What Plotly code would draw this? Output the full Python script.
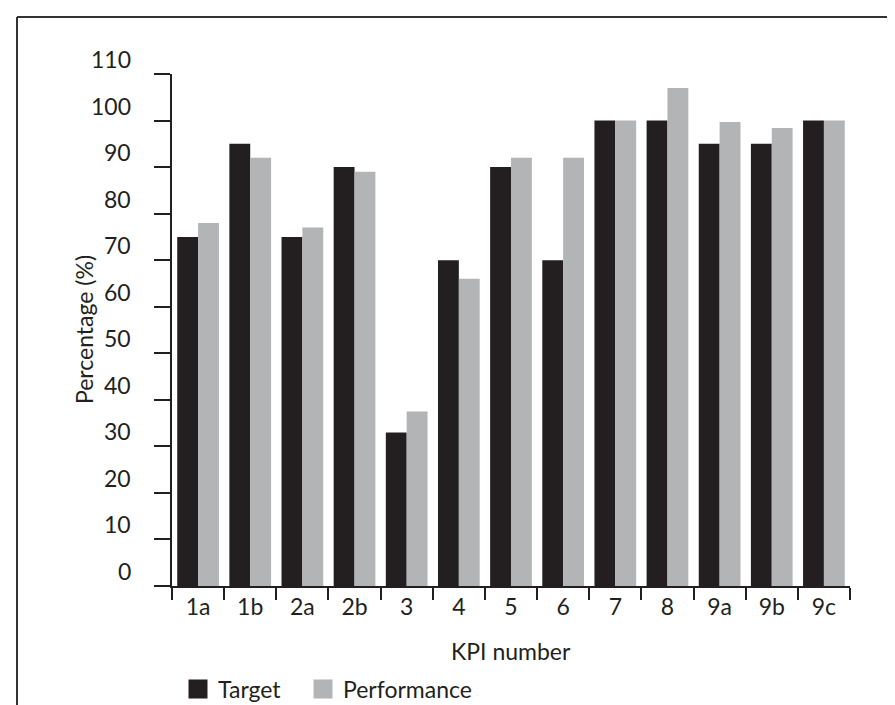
import plotly.graph_objects as go

categories = ["1a", "1b", "2a", "2b", "3", "4", "5", "6", "7", "8", "9a", "9b", "9c"]
target = [75, 95, 75, 90, 33, 70, 90, 70, 100, 100, 95, 95, 100]
performance = [78, 92, 77, 89, 37.5, 66, 92, 92, 100, 107, 99.7, 98.4, 100]
y_ticks = [0, 10, 20, 30, 40, 50, 60, 70, 80, 90, 100, 110]

BLACK = "#231f20"
GREY = "#b3b4b6"
FONT = "Lato"
FS = 23

W, H = 895, 705
ML, MR, MT, MB = 164, 53, 66, 127
pw, ph = W - ML - MR, H - MT - MB

def px_x(p):
    return (p - ML) / pw

def px_y(p):
    return (H - MB - p) / ph

fig = go.Figure()
fig.add_trace(go.Bar(x=categories, y=target, name="Target", marker=dict(color=BLACK, line=dict(width=0)), showlegend=False))
fig.add_trace(go.Bar(x=categories, y=performance, name="Performance", marker=dict(color=GREY, line=dict(width=0)), showlegend=False))
# legend entries
fig.add_trace(go.Scatter(x=[None], y=[None], mode="markers", name="Target", legend="legend",
                         marker=dict(symbol="square", size=16, color=BLACK, line=dict(width=3, color=BLACK))))
fig.add_trace(go.Scatter(x=[None], y=[None], mode="markers", name="Performance", legend="legend2",
                         marker=dict(symbol="square", size=16, color=GREY, line=dict(width=3, color=GREY))))

annotations = []
for v in y_ticks:
    annotations.append(dict(x=0, xref="paper", y=v, yref="y", text=str(v), showarrow=False,
                            xanchor="right", yanchor="middle", xshift=-39, yshift=15,
                            font=dict(family=FONT, size=FS, color=BLACK)))
annotations.append(dict(x=px_x(76), xref="paper", y=0.5, yref="paper", text="Percentage (%)",
                        textangle=-90, showarrow=False, xanchor="center", yanchor="middle",
                        font=dict(family=FONT, size=FS, color=BLACK)))
annotations.append(dict(x=0.5, xref="paper", y=px_y(643), yref="paper", text="KPI number",
                        showarrow=False, xanchor="center", yanchor="middle",
                        font=dict(family=FONT, size=FS, color=BLACK)))

shapes = [
    dict(type="line", xref="paper", yref="paper", x0=px_x(9), x1=px_x(9), y0=px_y(9), y1=px_y(720),
         line=dict(color="#333333", width=2)),
    dict(type="line", xref="paper", yref="paper", x0=px_x(9), x1=px_x(900), y0=px_y(9), y1=px_y(9),
         line=dict(color="#333333", width=2)),
]

legend_common = dict(orientation="h", xanchor="left", y=px_y(681), yanchor="middle",
                     font=dict(family=FONT, size=FS, color=BLACK), itemsizing="trace",
                     bgcolor="rgba(0,0,0,0)")

fig.update_layout(
    width=W, height=H,
    margin=dict(l=ML, r=MR, t=MT, b=MB, autoexpand=False),
    paper_bgcolor="white", plot_bgcolor="white",
    barmode="group", bargap=0.2, bargroupgap=0,
    font=dict(family=FONT, size=FS, color=BLACK),
    showlegend=True,
    legend=dict(x=px_x(170), **legend_common),
    legend2=dict(x=px_x(295), **legend_common),
    annotations=annotations,
    shapes=shapes,
)
fig.update_xaxes(type="category", range=[-0.5, 12.5], tickson="boundaries", ticks="outside",
                 ticklen=12, tickwidth=1.5, tickcolor=BLACK, showline=True, linecolor=BLACK,
                 linewidth=1.5, showgrid=False, zeroline=False,
                 tickfont=dict(family=FONT, size=FS, color=BLACK))
fig.update_yaxes(range=[0, 110], tickmode="array", tickvals=y_ticks, showticklabels=False,
                 ticks="outside", ticklen=16, tickwidth=1.5, tickcolor=BLACK, showline=True,
                 linecolor=BLACK, linewidth=1.5, showgrid=False, zeroline=False)

fig.write_html("out.html")
